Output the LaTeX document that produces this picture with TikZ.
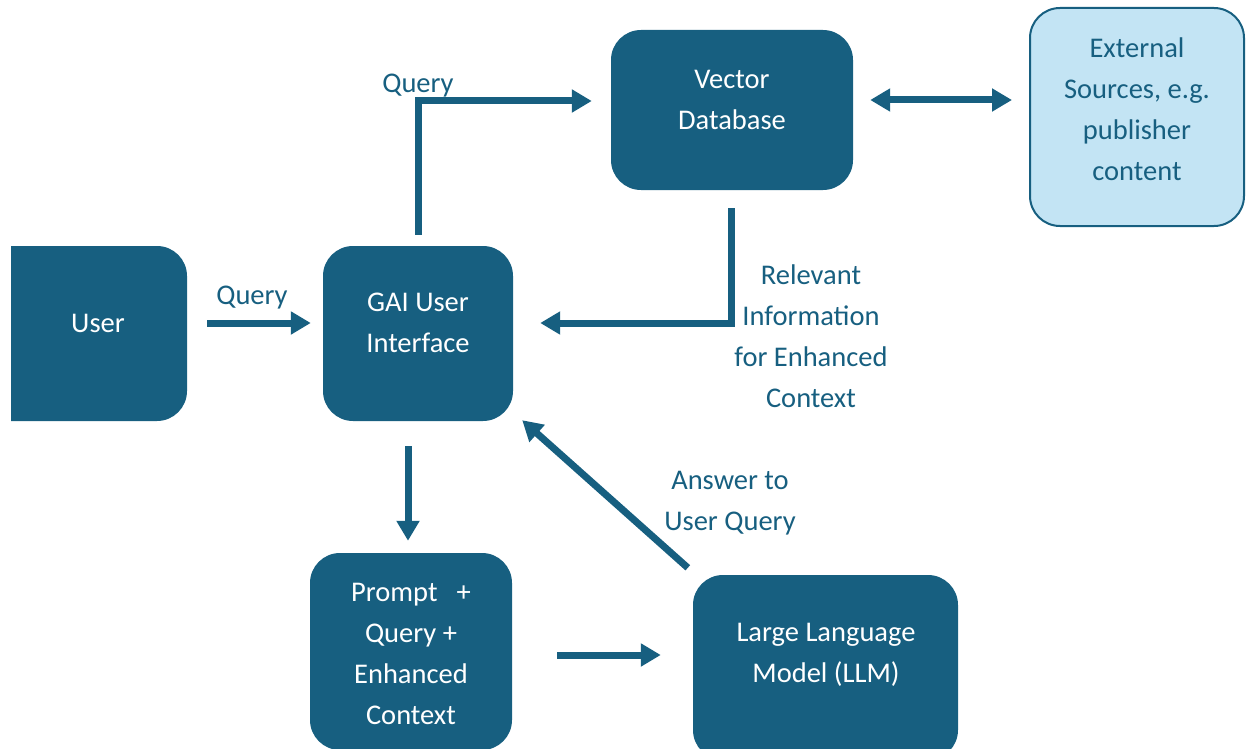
\documentclass[tikz,border=0pt]{standalone}
\usepackage{fontspec}
\setmainfont{Carlito}
\usetikzlibrary{arrows.meta}
\definecolor{teal}{RGB}{23,95,128}
\definecolor{pale}{RGB}{195,228,244}
\begin{document}
\begin{tikzpicture}[x=1pt,y=-1pt,
  box/.style={draw=none,fill=teal,rounded corners=30pt,inner sep=0pt},
  srcbox/.style={draw=teal,line width=2pt,fill=pale,rounded corners=30pt,inner sep=0pt},
  boxtext/.style={text=white,align=center,inner sep=0pt,font=\fontsize{28.5}{41}\selectfont},
  lbl/.style={text=teal,align=center,inner sep=0pt,font=\fontsize{28.5}{41}\selectfont},
  arr/.style={draw=teal,line width=7pt,line join=miter,-{Triangle[width=22pt,length=20pt]}},
  darr/.style={draw=teal,line width=7pt,{Triangle[width=22pt,length=20pt]}-{Triangle[width=22pt,length=20pt]}}]
\useasboundingbox (0,0) rectangle (1248,749);

% boxes (the user box is cut off at its left side)
\begin{scope}
  \clip (11,0) rectangle (1248,749);
  \node[box,minimum width=207pt,minimum height=175pt] (user) at (83.5,333.5) {};
\end{scope}
\node[box,minimum width=190pt,minimum height=175pt] (gai) at (418,333.5) {};
\node[box,minimum width=242pt,minimum height=160pt] (vdb) at (732,110) {};
\node[srcbox,minimum width=214pt,minimum height=218pt] (ext) at (1137,117) {};
\node[box,minimum width=202pt,minimum height=197pt] (prompt) at (411,651.5) {};
\node[box,minimum width=265pt,minimum height=185pt] (llm) at (825.5,667.5) {};

% box texts
\node[boxtext] (usertxt) at (98,323) {User};
\node[boxtext] (gaitxt) at (418,323) {GAI User\\Interface};
\node[boxtext] (vdbtxt) at (732,100) {Vector\\Database};
\node[lbl] (exttxt) at (1137,109) {External\\Sources, e.g.\\publisher\\content};
\node[boxtext] (prompttxt) at (411,654) {Prompt\hspace{19pt}+\\Query +\\Enhanced\\Context};
\node[boxtext] (llmtxt) at (826,655) {Large Language\\Model (LLM)};

% connectors
\draw[arr] ([shift={(20,-10.5)}]user.east) -- ([shift={(-12,-10.5)}]gai.west);
\draw[arr] ([yshift=11pt]gai.north) |- ([shift={(-19,-9)}]vdb.west);
\draw[arr] ([shift={(-1,18)}]vdb.south) |- ([shift={(27,-10.5)}]gai.east);
\draw[darr] ([shift={(17,-10)}]vdb.east) -- ([shift={(-17,-17)}]ext.west);
\draw[arr] ([shift={(-10,25)}]gai.south) -- ([shift={(-3,-12)}]prompt.north);
\draw[arr] ([shift={(45,3.5)}]prompt.east) -- ([shift={(-32,-12.5)}]llm.west);
\draw[arr] ([shift={(-5,-7)}]llm.north west) -- ([shift={(9,-1)}]gai.south east);

% connector labels
\node[lbl] (q1) at (252,298) {Query};
\node[lbl] (q2) at (418,86) {Query};
\node[lbl] (rel) at (811,336) {Relevant\\Information\\for Enhanced\\Context};
\node[lbl] (ans) at (730,503) {Answer to\\User Query};
\end{tikzpicture}
\end{document}
